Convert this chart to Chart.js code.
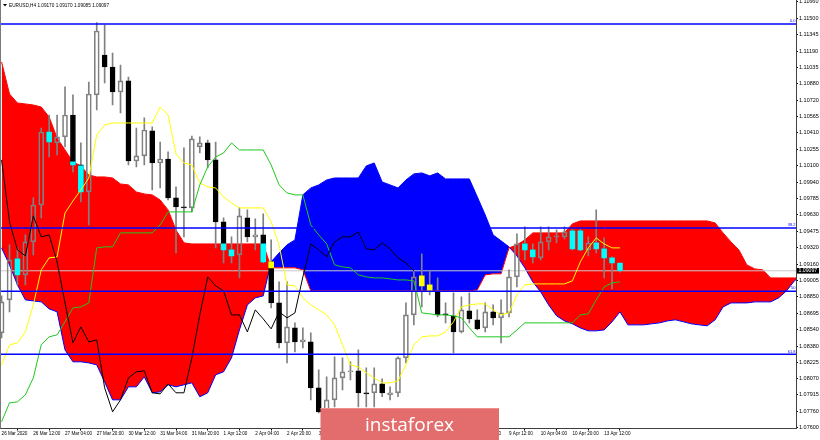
<!DOCTYPE html>
<html>
<head>
<meta charset="utf-8">
<script src="https://cdn.jsdelivr.net/npm/chart.js@4/dist/chart.umd.min.js"></script>
<style>
  html, body { margin: 0; padding: 0; background: #fff; }
  canvas { display: block; }
</style>
</head>
<body>
<canvas id="ichimokuChart" width="820" height="440"></canvas>
<script>
// EURUSD H4, bar 0 = leftmost visible bar, bar 78 = 13 Apr 20:00
const symbolInfo = 'EURUSD,H4';

const opens = [
  1.08506, 1.08820, 1.09210, 1.09058, 1.09372, 1.09724, 1.10419, 1.10315, 1.10372, 1.10581,
  1.10105, 1.09848, 1.10772, 1.11152, 1.11038, 1.10800, 1.10905, 1.10143, 1.10191, 1.10429,
  1.10124, 1.10162, 1.09791, 1.09705, 1.09696, 1.10277, 1.10315, 1.10153, 1.09563, 1.09296,
  1.09248, 1.09601, 1.09420, 1.09439, 1.09182, 1.08791, 1.08411, 1.08553, 1.08420, 1.08420,
  1.07982, 1.07754, 1.07868, 1.08077, 1.08135, 1.08144, 1.07935, 1.07935, 1.08020, 1.07916,
  1.07935, 1.08268, 1.08677, 1.09049, 1.08963, 1.08896, 1.08687, 1.08668, 1.08515, 1.08715,
  1.08630, 1.08553, 1.08706, 1.08649, 1.08696, 1.09039, 1.09353, 1.09296, 1.09220, 1.09372,
  1.09420, 1.09420, 1.09477, 1.09477, 1.09296, 1.09363, 1.09306, 1.09220, 1.09170
];
const highs = [
  1.08858, 1.09344, 1.09315, 1.09439, 1.09791, 1.10457, 1.10581, 1.10581, 1.10848, 1.10772,
  1.10315, 1.10895, 1.11460, 1.11438, 1.11171, 1.11057, 1.10943, 1.10457, 1.10553, 1.10467,
  1.10324, 1.10229, 1.09896, 1.10267, 1.10381, 1.10372, 1.10343, 1.10324, 1.09601, 1.09420,
  1.09696, 1.09677, 1.09591, 1.09639, 1.09391, 1.08991, 1.08991, 1.08601, 1.08553, 1.08506,
  1.08154, 1.08087, 1.08277, 1.08268, 1.08230, 1.08344, 1.08173, 1.08173, 1.08068, 1.07992,
  1.08277, 1.08791, 1.09087, 1.09258, 1.09096, 1.09029, 1.08791, 1.08887, 1.08849, 1.08887,
  1.08725, 1.08791, 1.08772, 1.08820, 1.09106, 1.09448, 1.09515, 1.09353, 1.09515, 1.09515,
  1.09486, 1.09515, 1.09496, 1.09496, 1.09420, 1.09677, 1.09410, 1.09229, 1.09170
];
const lows = [
  1.08458, 1.08706, 1.08963, 1.08963, 1.09248, 1.09601, 1.10181, 1.10200, 1.10277, 1.10039,
  1.09753, 1.09534, 1.10629, 1.10886, 1.10676, 1.10600, 1.10105, 1.10086, 1.10105, 1.09867,
  1.09886, 1.09772, 1.09267, 1.09420, 1.09658, 1.10219, 1.10077, 1.09315, 1.09172, 1.09172,
  1.09029, 1.09372, 1.09296, 1.09172, 1.08744, 1.08363, 1.08220, 1.08325, 1.08363, 1.07868,
  1.07744, 1.07725, 1.07801, 1.07963, 1.08058, 1.07801, 1.07801, 1.07801, 1.07897, 1.07868,
  1.07897, 1.08220, 1.08582, 1.08753, 1.08868, 1.08658, 1.08601, 1.08315, 1.08506, 1.08601,
  1.08534, 1.08515, 1.08582, 1.08411, 1.08658, 1.08944, 1.09201, 1.09172, 1.09201, 1.09296,
  1.09363, 1.09401, 1.09296, 1.09286, 1.09239, 1.09267, 1.09029, 1.08925, 1.09085
];
const closes = [
  1.08801, 1.09201, 1.09058, 1.09372, 1.09724, 1.10419, 1.10324, 1.10372, 1.10581, 1.10105,
  1.09848, 1.10781, 1.11381, 1.11038, 1.10800, 1.10905, 1.10143, 1.10191, 1.10438, 1.10124,
  1.10162, 1.09791, 1.09705, 1.09696, 1.10353, 1.10315, 1.10153, 1.09563, 1.09296, 1.09239,
  1.09620, 1.09420, 1.09439, 1.09182, 1.08791, 1.08411, 1.08563, 1.08420, 1.08439, 1.07982,
  1.07754, 1.07868, 1.08077, 1.08135, 1.08144, 1.07935, 1.07925, 1.08020, 1.07935, 1.07935,
  1.08268, 1.08677, 1.09039, 1.08953, 1.08906, 1.08677, 1.08677, 1.08515, 1.08725, 1.08639,
  1.08544, 1.08706, 1.08649, 1.08696, 1.09039, 1.09353, 1.09296, 1.09229, 1.09372, 1.09420,
  1.09420, 1.09467, 1.09306, 1.09296, 1.09363, 1.09306, 1.09220, 1.09172, 1.09097
];

// Tenkan-sen (yellow) and Kijun-sen (green), one value per bar
const tenkan = [
  1.08201, 1.08392, 1.08411, 1.08515, 1.08772, 1.09106, 1.09220, 1.09229, 1.09648, 1.09762,
  1.09867, 1.09981, 1.10391, 1.10486, 1.10505, 1.10505, 1.10505, 1.10505, 1.10505, 1.10505,
  1.10657, 1.10581, 1.10210, 1.10124, 1.10105, 1.09934, 1.09896, 1.09886, 1.09801, 1.09743,
  1.09696, 1.09696, 1.09696, 1.09696, 1.09563, 1.09344, 1.08963, 1.08953, 1.08839, 1.08772,
  1.08725, 1.08677, 1.08582, 1.08392, 1.08201, 1.08182, 1.08125, 1.08077, 1.08030, 1.08030,
  1.08049, 1.08201, 1.08392, 1.08468, 1.08477, 1.08477, 1.08515, 1.08611, 1.08753, 1.08772,
  1.08782, 1.08782, 1.08725, 1.08677, 1.08696, 1.08868, 1.08963, 1.08972, 1.08972, 1.08972,
  1.08972, 1.08972, 1.09001, 1.09182, 1.09315, 1.09410, 1.09353, 1.09315, 1.09315
];
const kijun = [
  1.07659, 1.07839, 1.07849, 1.07916, 1.08077, 1.08392, 1.08468, 1.08487, 1.08611, 1.08744,
  1.08753, 1.08791, 1.09315, 1.09325, 1.09325, 1.09458, 1.09458, 1.09458, 1.09458, 1.09458,
  1.09534, 1.09658, 1.09658, 1.09658, 1.09658, 1.09915, 1.10086, 1.10181, 1.10219, 1.10315,
  1.10248, 1.10248, 1.10248, 1.10248, 1.10105, 1.09915, 1.09839, 1.09820, 1.09820, 1.09534,
  1.09439, 1.09353, 1.09153, 1.09134, 1.09125, 1.09058, 1.09039, 1.09029, 1.09029, 1.09020,
  1.09010, 1.09010, 1.09001, 1.08696, 1.08687, 1.08677, 1.08677, 1.08668, 1.08649, 1.08553,
  1.08468, 1.08468, 1.08468, 1.08468, 1.08468, 1.08534, 1.08601, 1.08601, 1.08601, 1.08601,
  1.08601, 1.08601, 1.08601, 1.08677, 1.08687, 1.08820, 1.08944, 1.08982, 1.08991
];

// Senkou spans, plotted 26 bars ahead so they run to bar 101
const senkouA = [
  1.09315, 1.09153, 1.08963, 1.08820, 1.08810, 1.08801, 1.08734, 1.08706, 1.08344, 1.08230,
  1.08230, 1.08220, 1.08201, 1.08039, 1.07868, 1.07868, 1.07992, 1.07992, 1.08087, 1.07935,
  1.07944, 1.08011, 1.07992, 1.08011, 1.08030, 1.07897, 1.07935, 1.08106, 1.08135, 1.08268,
  1.08534, 1.08772, 1.08839, 1.08858, 1.09182, 1.09267, 1.09344, 1.09391, 1.09820, 1.09886,
  1.09915, 1.09962, 1.09981, 1.09981, 1.09981, 1.09981, 1.10096, 1.10124, 1.09943, 1.09915,
  1.09886, 1.09962, 1.10020, 1.10029, 1.10001, 1.10029, 1.09972, 1.09972, 1.09972, 1.09972,
  1.09801, 1.09629, 1.09439, 1.09382, 1.09325, 1.09239, 1.09125, 1.08991, 1.08896, 1.08772,
  1.08668, 1.08620, 1.08592, 1.08553, 1.08525, 1.08525, 1.08534, 1.08611, 1.08706, 1.08582,
  1.08582, 1.08582, 1.08592, 1.08601, 1.08620, 1.08630, 1.08611, 1.08592, 1.08582, 1.08573,
  1.08630, 1.08753, 1.08791, 1.08791, 1.08791, 1.08801, 1.08801, 1.08801, 1.08839, 1.08906,
  1.09001, 1.09058
];
const senkouB = [
  1.11086, 1.10781, 1.10695, 1.10686, 1.10676, 1.10657, 1.10562, 1.10362, 1.10248, 1.10134,
  1.10096, 1.10010, 1.09991, 1.09991, 1.09981, 1.09924, 1.09915, 1.09848, 1.09829, 1.09820,
  1.09772, 1.09677, 1.09486, 1.09363, 1.09353, 1.09353, 1.09353, 1.09353, 1.09353, 1.09353,
  1.09353, 1.09353, 1.09353, 1.09353, 1.09125, 1.09125, 1.09125, 1.09125, 1.09106, 1.08906,
  1.08906, 1.08906, 1.08906, 1.08906, 1.08906, 1.08906, 1.08906, 1.08906, 1.08906, 1.08906,
  1.08906, 1.08906, 1.08906, 1.08906, 1.08906, 1.08906, 1.08906, 1.08906, 1.08906, 1.08906,
  1.08915, 1.09058, 1.09068, 1.09068, 1.09315, 1.09344, 1.09391, 1.09458, 1.09458, 1.09458,
  1.09458, 1.09458, 1.09544, 1.09572, 1.09572, 1.09572, 1.09572, 1.09572, 1.09572, 1.09572,
  1.09572, 1.09572, 1.09572, 1.09572, 1.09572, 1.09572, 1.09572, 1.09572, 1.09572, 1.09572,
  1.09553, 1.09458, 1.09372, 1.09296, 1.09153, 1.09115, 1.09106, 1.09029, 1.09029, 1.09029,
  1.09029, 1.09029
];
const chikouShift = 26;

const fibLevels = [1.11448, 1.09504, 1.08903, 1.08302];
const fibLabels = ['0.0', '38.2', '50', '61.8'];

const priceTicks = [
  1.11660, 1.11500, 1.11345, 1.11190, 1.11035, 1.10880, 1.10720, 1.10565, 1.10410,
  1.10255, 1.10100, 1.09940, 1.09785, 1.09630, 1.09475, 1.09320, 1.09160, 1.09005,
  1.08850, 1.08695, 1.08540, 1.08380, 1.08225, 1.08070, 1.07915, 1.07760, 1.07600
];
const timeTickBars = [0, 4, 8, 12, 16, 20, 24, 28, 32, 36, 40, 44, 48, 52, 56, 60, 64, 68, 72, 76];
const timeTickLabels = [
  '26 Mar 2020', '26 Mar 12:00', '27 Mar 04:00', '27 Mar 20:00', '30 Mar 12:00',
  '31 Mar 04:00', '31 Mar 20:00', '1 Apr 12:00', '2 Apr 04:00', '2 Apr 20:00',
  '3 Apr 12:00', '6 Apr 04:00', '6 Apr 20:00', '7 Apr 12:00', '8 Apr 04:00',
  '8 Apr 20:00', '9 Apr 12:00', '10 Apr 04:00', '10 Apr 20:00', '13 Apr 12:00'
];

// build chart tables
const xMin = -0.2, xMax = 100.2;
const isBull = i => closes[i] >= opens[i];
const bodies = opens.map((o, i) => ({ x: i, y: [o, closes[i]] }));
const upperWicks = opens.map((o, i) => ({ x: i, y: [Math.max(o, closes[i]), highs[i]] }));
const lowerWicks = opens.map((o, i) => ({ x: i, y: [lows[i], Math.min(o, closes[i])] }));

// dark bodies take the inverse colour where they sit inside the kumo
const tinted = [];
opens.forEach((o, i) => {
  const c = closes[i];
  if (c >= o) return;
  const lo = Math.max(c, Math.min(senkouA[i], senkouB[i]));
  const hi = Math.min(o, Math.max(senkouA[i], senkouB[i]));
  if (hi > lo) tinted.push({ x: i, y: [lo, hi], red: senkouB[i] > senkouA[i] });
});

const toPoints = arr => arr.map((v, i) => ({ x: i, y: v }));
const chikou = closes.slice(chikouShift).map((v, i) => ({ x: i, y: v }));
const lastClose = closes[closes.length - 1];
const hLine = v => [{ x: xMin, y: v }, { x: xMax, y: v }];

const lineDefaults = { type: 'line', pointRadius: 0, tension: 0, fill: false };

const fibSets = fibLevels.map(v => ({
  ...lineDefaults, data: hLine(v), borderColor: '#0000ff', borderWidth: 1.5
}));

const overlayPlugin = {
  id: 'mt4Overlay',
  afterDraw(chart) {
    const { ctx, chartArea, scales } = chart;
    const y = scales.y;
    ctx.save();

    // left frame
    ctx.strokeStyle = '#7a7a7a';
    ctx.lineWidth = 1;
    ctx.beginPath();
    ctx.moveTo(0.5, 0);
    ctx.lineTo(0.5, chartArea.bottom);
    ctx.stroke();

    // fibo captions
    ctx.fillStyle = '#0000ff';
    ctx.font = '4px "Liberation Sans"';
    ctx.textAlign = 'right';
    ctx.textBaseline = 'bottom';
    fibLevels.forEach((lv, k) => {
      ctx.fillText(fibLabels[k], chartArea.right - 0.5, y.getPixelForValue(lv) - 0.8);
    });

    // header line
    ctx.fillStyle = '#000';
    ctx.beginPath();
    ctx.moveTo(3, 4);
    ctx.lineTo(7, 4);
    ctx.lineTo(5, 6.5);
    ctx.closePath();
    ctx.fill();
    const n = closes.length - 1;
    ctx.font = '4.7px "Liberation Sans"';
    ctx.textAlign = 'left';
    ctx.textBaseline = 'middle';
    ctx.fillText(symbolInfo + ' ' + [opens[n], highs[n], lows[n], closes[n]].map(v => v.toFixed(5)).join(' '), 9, 5.5);

    // bid label
    const py = y.getPixelForValue(lastClose);
    ctx.fillStyle = '#000';
    ctx.fillRect(chartArea.right + 1, py - 2.8, 22, 5.6);
    ctx.fillStyle = '#fff';
    ctx.font = '5.2px "Liberation Sans"';
    ctx.fillText(lastClose.toFixed(5), chartArea.right + 2.5, py + 0.2);

    // watermark
    ctx.fillStyle = '#e36d6d';
    ctx.fillRect(320.5, 408, 178.5, 32);
    ctx.fillStyle = '#ec8e8e';
    ctx.fillRect(320.5, 408, 178.5, 1);
    ctx.fillStyle = '#fff';
    ctx.font = '19px "Open Sans"';
    ctx.textAlign = 'center';
    ctx.textBaseline = 'alphabetic';
    ctx.fillText('instaforex', 409.5, 431);

    ctx.restore();
  }
};

new Chart(document.getElementById('ichimokuChart').getContext('2d'), {
  type: 'line',
  data: {
    datasets: [
      ...fibSets,
      { ...lineDefaults, data: chikou, borderColor: '#000000', borderWidth: 1 },
      { ...lineDefaults, data: toPoints(kijun), borderColor: '#1ec81e', borderWidth: 1 },
      { ...lineDefaults, data: toPoints(tenkan), borderColor: '#ffff00', borderWidth: 1 },
      {
        type: 'bar', data: tinted, grouped: false, barThickness: 5, borderWidth: 0,
        backgroundColor: c => (c.raw && c.raw.red ? '#00ffff' : '#ffff00')
      },
      {
        type: 'bar', data: bodies, grouped: false, barThickness: 5, minBarLength: 1,
        borderWidth: 1, borderSkipped: false,
        backgroundColor: c => (isBull(c.dataIndex) ? 'rgba(0,0,0,0)' : '#000000'),
        borderColor: c => (isBull(c.dataIndex) ? '#808080' : '#000000')
      },
      { type: 'bar', data: upperWicks, grouped: false, barThickness: 1, borderWidth: 0, backgroundColor: '#808080' },
      { type: 'bar', data: lowerWicks, grouped: false, barThickness: 1, borderWidth: 0, backgroundColor: '#808080' },
      { ...lineDefaults, data: hLine(lastClose), borderColor: '#c8c8c8', borderWidth: 1 },
      { ...lineDefaults, data: toPoints(senkouB), borderColor: '#ff0000', borderWidth: 1 },
      {
        ...lineDefaults, data: toPoints(senkouA), borderColor: '#0000ff', borderWidth: 1,
        fill: { target: '-1', above: '#0000ff', below: '#ff0000' }
      }
    ]
  },
  options: {
    responsive: false,
    animation: false,
    devicePixelRatio: 1,
    layout: { padding: 0, autoPadding: false },
    plugins: { legend: { display: false }, tooltip: { enabled: false }, title: { display: false } },
    scales: {
      x: {
        type: 'linear', min: xMin, max: xMax, offset: false,
        afterBuildTicks: s => { s.ticks = timeTickBars.map(v => ({ value: v })); },
        afterFit: s => { s.height = 11.5; s.paddingLeft = 0; s.paddingRight = 0; },
        grid: { drawOnChartArea: false, drawTicks: true, tickLength: 2, color: '#000' },
        border: { display: true, color: '#404040', width: 1 },
        ticks: {
          autoSkip: false, maxRotation: 0, minRotation: 0, align: 'start', padding: 0.5,
          color: '#000', font: { family: 'Liberation Sans', size: 4.6 },
          callback: (v, idx) => timeTickLabels[idx]
        }
      },
      y: {
        position: 'right', min: 1.07595, max: 1.11676,
        afterBuildTicks: s => { s.ticks = priceTicks.map(v => ({ value: v })); },
        afterFit: s => { s.width = 24; s.paddingTop = 0; s.paddingBottom = 0; },
        grid: { drawOnChartArea: false, drawTicks: true, tickLength: 2, color: '#000' },
        border: { display: true, color: '#404040', width: 1 },
        ticks: {
          autoSkip: false, padding: 1, color: '#000',
          font: { family: 'Liberation Sans', size: 5.5 },
          callback: v => v.toFixed(5)
        }
      }
    }
  },
  plugins: [overlayPlugin]
});
</script>
</body>
</html>
